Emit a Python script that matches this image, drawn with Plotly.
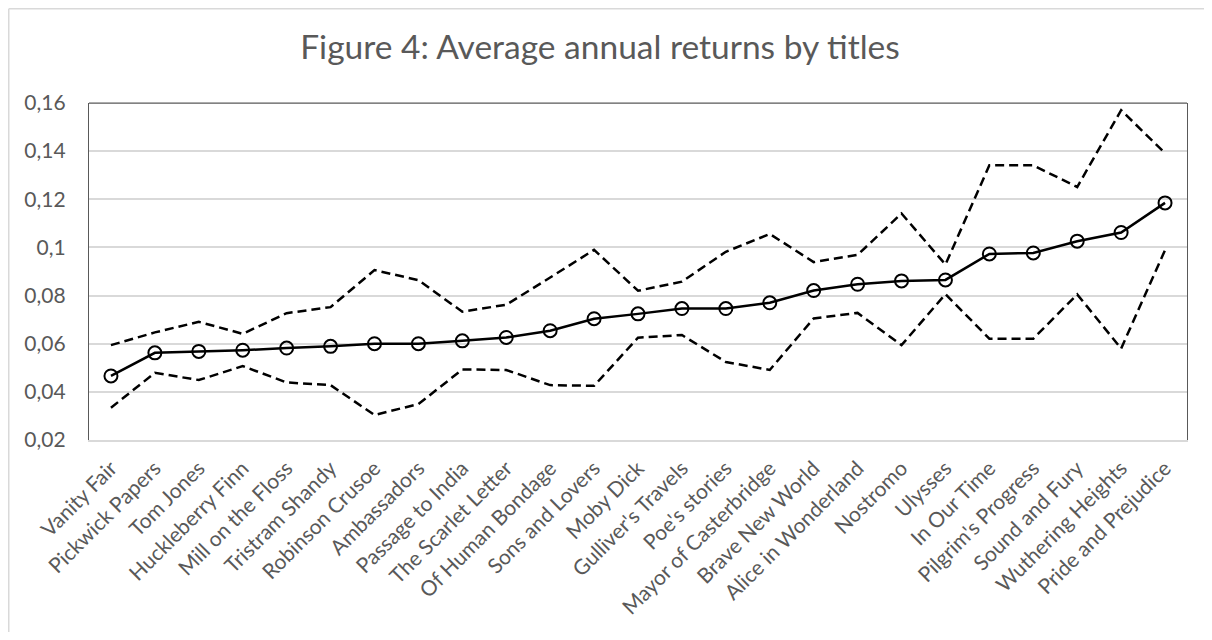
import plotly.graph_objects as go

titles = ["Vanity Fair", "Pickwick Papers", "Tom Jones", "Huckleberry Finn", "Mill on the Floss",
          "Tristram Shandy", "Robinson Crusoe", "Ambassadors", "Passage to India", "The Scarlet Letter",
          "Of Human Bondage", "Sons and Lovers", "Moby Dick", "Gulliver's Travels", "Poe's stories",
          "Mayor of Casterbridge", "Brave New World", "Alice in Wonderland", "Nostromo", "Ulysses",
          "In Our Time", "Pilgrim's Progress", "Sound and Fury", "Wuthering Heights", "Pride and Prejudice"]

mean_return = [0.0466, 0.0562, 0.0568, 0.0573, 0.0582, 0.0589, 0.0600, 0.0600, 0.0612, 0.0626,
               0.0654, 0.0704, 0.0724, 0.0746, 0.0746, 0.0770, 0.0821, 0.0847, 0.0861, 0.0865,
               0.0973, 0.0977, 0.1026, 0.1062, 0.1185]

upper_band = [0.0594, 0.0647, 0.0691, 0.0641, 0.0727, 0.0752, 0.0906, 0.0864, 0.0733, 0.0762,
              0.0875, 0.0990, 0.0820, 0.0858, 0.0982, 0.1056, 0.0939, 0.0969, 0.1141, 0.0929,
              0.1341, 0.1341, 0.1251, 0.1570, 0.1392]

lower_band = [0.0334, 0.0479, 0.0449, 0.0507, 0.0439, 0.0428, 0.0304, 0.0349, 0.0493, 0.0491,
              0.0428, 0.0425, 0.0625, 0.0636, 0.0524, 0.0491, 0.0705, 0.0728, 0.0594, 0.0806,
              0.0621, 0.0621, 0.0805, 0.0580, 0.0989]

y_ticks = [0.02, 0.04, 0.06, 0.08, 0.1, 0.12, 0.14, 0.16]

FONT = "Lato"
GRAY = "#595959"

W, H = 1196, 624
L, R, T, B = 81, 17, 95, 192
PW, PH = W - L - R, H - T - B

fig = go.Figure()
fig.add_trace(go.Scatter(x=titles, y=upper_band, mode="lines",
                         line=dict(color="black", width=2.5, dash="9px,5px"), name="Upper"))
fig.add_trace(go.Scatter(x=titles, y=lower_band, mode="lines",
                         line=dict(color="black", width=2.5, dash="9px,5px"), name="Lower"))
fig.add_trace(go.Scatter(x=titles, y=mean_return, mode="lines+markers",
                         line=dict(color="black", width=2.5),
                         marker=dict(symbol="circle-open", size=13, color="black",
                                     line=dict(width=2, color="black")),
                         name="Mean"))

fig.update_layout(
    width=W, height=H,
    paper_bgcolor="white", plot_bgcolor="white",
    separators=", ",
    showlegend=False,
    margin=dict(l=L, r=R, t=T, b=B),
    title=dict(text="Figure 4: Average annual returns by titles", x=592 / W, xanchor="center",
               y=1 - 39 / H, yanchor="middle",
               font=dict(family=FONT, size=33.5, color=GRAY)),
    font=dict(family=FONT, color=GRAY),
    xaxis=dict(type="category", tickangle=-45, tickfont=dict(size=21, color=GRAY),
               showgrid=False, showline=True, linecolor="#d9d9d9", linewidth=1.5,
               ticks="", ticklabelstandoff=6, range=[-0.5, len(titles) - 0.5]),
    yaxis=dict(range=[0.02, 0.16], tickvals=y_ticks, tickfont=dict(size=21, color=GRAY),
               showgrid=True, gridcolor="#d9d9d9", gridwidth=1.5,
               showline=True, linecolor="#595959", linewidth=1.25, mirror=True,
               ticks="", ticklabelstandoff=18, zeroline=False),
    shapes=[
        dict(type="line", xref="paper", yref="paper", x0=0, x1=1, y0=1, y1=1,
             line=dict(color="#595959", width=1.25)),
        dict(type="line", xref="paper", yref="paper",
             x0=(0.75 - L) / PW, x1=(0.75 - L) / PW, y0=-1, y1=1 + (T - 0.75) / PH,
             line=dict(color="#d9d9d9", width=1.5), layer="below"),
        dict(type="line", xref="paper", yref="paper",
             x0=(0.75 - L) / PW, x1=1.3, y0=1 + (T - 0.75) / PH, y1=1 + (T - 0.75) / PH,
             line=dict(color="#d9d9d9", width=1.5), layer="below"),
    ],
)

fig.write_html("out.html")
